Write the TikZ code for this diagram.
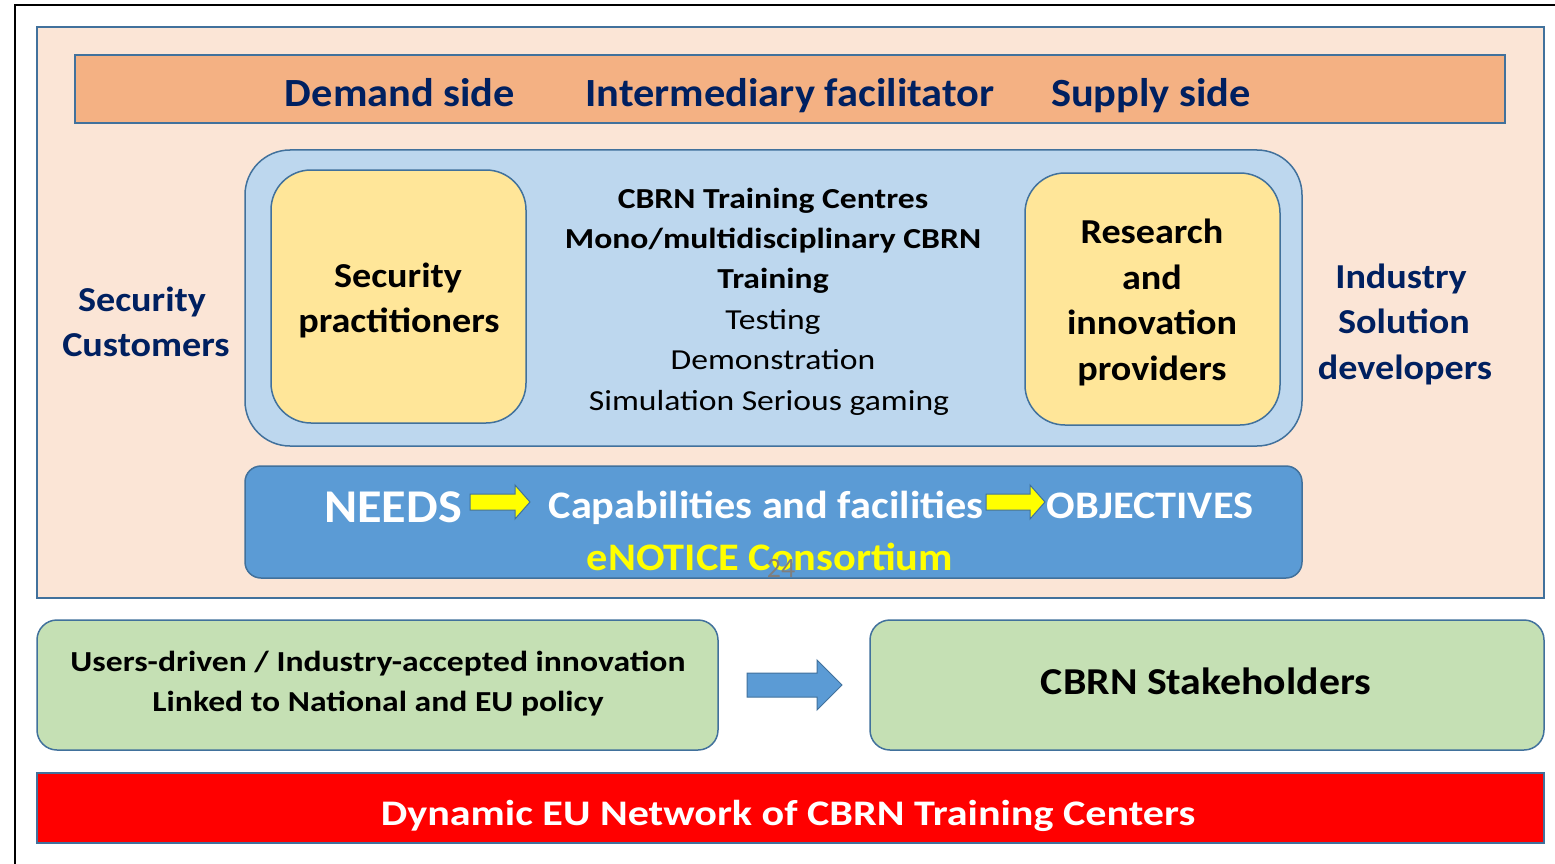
\documentclass[tikz,border=0pt]{standalone}
\usepackage{fontspec}
\setmainfont{Carlito}
\definecolor{peach}{HTML}{FBE5D6}
\definecolor{hdr}{HTML}{F4B183}
\definecolor{bordc}{HTML}{41719C}
\definecolor{navy}{HTML}{002060}
\definecolor{lblue}{HTML}{BDD7EE}
\definecolor{ylw}{HTML}{FFE699}
\definecolor{bbar}{HTML}{5B9BD5}
\definecolor{grn}{HTML}{C5E0B4}
\definecolor{yel}{HTML}{FFFF00}
\definecolor{pgray}{HTML}{7F7F7F}
\newcommand\fsz[3]{\fontsize{#1}{#2}\selectfont\addfontfeature{FakeStretch=#3}}
\begin{document}
\begin{tikzpicture}[x=1pt,y=-1pt,
  boxline/.style={draw=bordc, line width=1.5pt},
  txt/.style={anchor=base, inner sep=0pt},
  hdrtxt/.style={txt, text=navy, font=\bfseries\fsz{40}{48}{1.06}},
  sidetxt/.style={txt, text=navy, font=\bfseries\fsz{35}{44}{1.09}},
  yltxt/.style={txt, text=black, font=\bfseries\fsz{35}{44}{1.09}},
  ctrb/.style={txt, text=black, font=\bfseries\fsz{29}{36}{1.16}},
  ctrr/.style={txt, text=black, font=\fsz{29}{36}{1.16}},
  bartxt/.style={txt, text=white, font=\bfseries\fsz{39}{46}{1.085}},
  grntxt/.style={txt, text=black, font=\bfseries\fsz{29}{36}{1.16}},
  yarr/.style={draw=bordc, line width=1pt, fill=yel},
]
\useasboundingbox (0,0) rectangle (1555,864);
\fill[white] (0,0) rectangle (1555,864);
\draw[line width=2pt] (15,870) -- (15,5) -- (1560,5);

% main peach panel
\draw[boxline, fill=peach] (37,27) rectangle (1544,598);
\draw[boxline, fill=hdr] (75,55) rectangle (1505,123);
\node[hdrtxt] (demand) at (400,107) {Demand side};
\node[hdrtxt] (inter) at (790,107) {Intermediary facilitator};
\node[hdrtxt] (supply) at (1151,107) {Supply side};

% light blue container
\draw[boxline, fill=lblue, rounded corners=45pt] (245,150) rectangle (1302,446);
\draw[boxline, fill=ylw, rounded corners=40pt] (271,170) rectangle (526,423);
\draw[boxline, fill=ylw, rounded corners=40pt] (1025,173) rectangle (1280,425);

\node[yltxt] (sp1) at (398,287) {Security};
\node[yltxt] (sp2) at (399,332) {practitioners};

\node[yltxt] (rp1) at (1152,243) {Research};
\node[yltxt] (rp2) at (1152,289) {and};
\node[yltxt] (rp3) at (1152,334) {innovation};
\node[yltxt] (rp4) at (1152,380) {providers};

\node[ctrb] (c1) at (773,208) {CBRN Training Centres};
\node[ctrb] (c2) at (773,248) {Mono/multidisciplinary CBRN};
\node[ctrb] (c3) at (773,288) {Training};
\node[ctrr] (c4) at (773,329) {Testing};
\node[ctrr] (c5) at (773,369) {Demonstration};
\node[ctrr] (c6) at (769,410) {Simulation Serious gaming};

\node[sidetxt] (sc1) at (142,311) {Security};
\node[sidetxt] (sc2) at (146,356) {Customers};

\node[sidetxt] (ind1) at (1401,288) {Industry};
\node[sidetxt] (ind2) at (1404,333) {Solution};
\node[sidetxt] (ind3) at (1405,379) {developers};

% blue bar
\draw[boxline, fill=bbar, rounded corners=16pt] (245,466) rectangle (1302,578);
\node[txt, text=white, font=\bfseries\fsz{47}{56}{1.07}] (needs) at (393,522) {NEEDS};
\draw[yarr, shift={(470,502)}] (0,-8) -- (45,-8) -- (45,-17) -- (60,0) -- (45,17) -- (45,8) -- (0,8) -- cycle;
\node[bartxt] (capab) at (766,518) {Capabilities and facilities};
\draw[yarr, shift={(986,502)}] (0,-8) -- (44,-8) -- (44,-17) -- (59,0) -- (44,17) -- (44,8) -- (0,8) -- cycle;
\node[bartxt] (obj) at (1150,518) {OBJECTIVES};
\node[bartxt, text=yel] (enotice) at (770,570) {eNOTICE Consortium};
\node[txt, text=pgray, font=\fontsize{28}{32}\selectfont] (pnum) at (781,577) {24};

% green boxes
\draw[boxline, fill=grn, rounded corners=20pt] (37,620) rectangle (718,750);
\draw[boxline, fill=grn, rounded corners=20pt] (870,620) rectangle (1544,750);
\node[grntxt] (u1) at (378,671) {Users-driven / Industry-accepted innovation};
\node[grntxt] (u2) at (378,711) {Linked to National and EU policy};
\node[txt, text=black, font=\bfseries\fsz{38}{46}{1.1}] (stake) at (1206,694) {CBRN Stakeholders};
\draw[draw=bordc, line width=1pt, fill=bbar, shift={(747,685)}] (0,-12) -- (70,-12) -- (70,-25) -- (95,0) -- (70,25) -- (70,12) -- (0,12) -- cycle;

% red bar
\draw[draw=bordc, line width=1.5pt, fill=red] (37,773) rectangle (1544,843);
\node[txt, text=white, font=\bfseries\fsz{36}{44}{1.17}] (net) at (788,825) {Dynamic EU Network of CBRN Training Centers};
\end{tikzpicture}
\end{document}
